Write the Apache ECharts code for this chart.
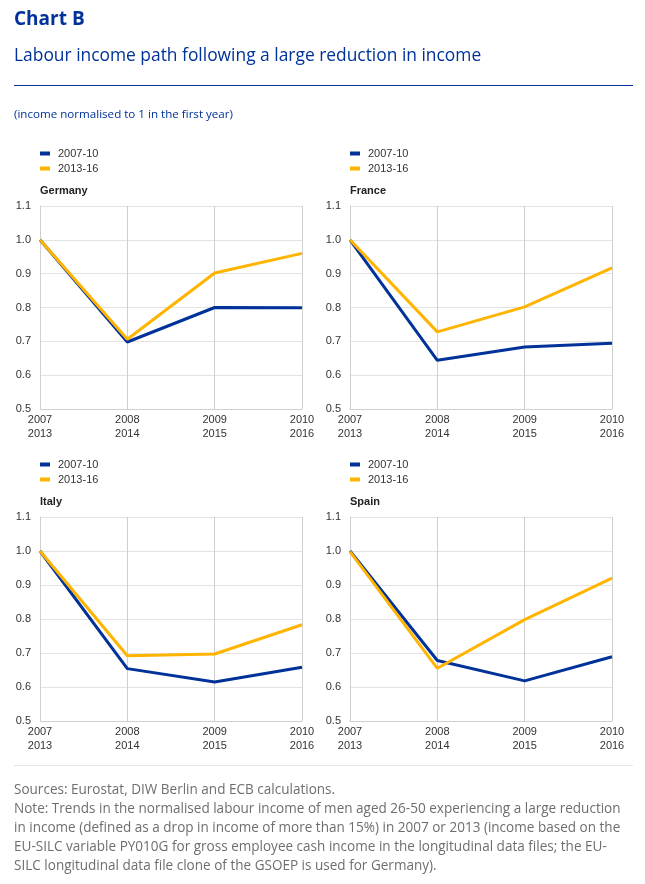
<!DOCTYPE html>
<html>
<head>
<meta charset="utf-8">
<script src="https://cdn.jsdelivr.net/npm/echarts@6/dist/echarts.min.js"></script>
<style>
html,body{margin:0;padding:0;background:#fff;}
#c{width:645px;height:884px;}
</style>
</head>
<body>
<div id="c"></div>
<script>
const categories = ['2007\n2013', '2008\n2014', '2009\n2015', '2010\n2016'];
const seriesNames = ['2007-10', '2013-16'];
const countries = ['Germany', 'France', 'Italy', 'Spain'];
const germany0710 = [1.0, 0.698, 0.800, 0.799];
const germany1316 = [1.0, 0.706, 0.902, 0.960];
const france0710 = [1.0, 0.644, 0.683, 0.694];
const france1316 = [1.0, 0.728, 0.802, 0.917];
const italy0710 = [1.0, 0.654, 0.615, 0.658];
const italy1316 = [1.0, 0.692, 0.697, 0.783];
const spain0710 = [1.0, 0.678, 0.618, 0.689];
const spain1316 = [0.998, 0.655, 0.798, 0.920];
const yTicks = [0.5, 0.6, 0.7, 0.8, 0.9, 1.0, 1.1];

const dataByCountry = [
  [germany0710, germany1316],
  [france0710, france1316],
  [italy0710, italy1316],
  [spain0710, spain1316]
];

const BLUE = '#003299';
const YELLOW = '#ffb400';
const FONT = '"Liberation Sans", Arial, sans-serif';
const OPEN = '"Open Sans", sans-serif';

const panels = [
  {left: 40, top: 206, height: 203, legendTop: 148, titleY: 191},
  {left: 350, top: 206, height: 203, legendTop: 148, titleY: 191},
  {left: 40, top: 517, height: 204, legendTop: 459, titleY: 502},
  {left: 350, top: 517, height: 204, legendTop: 459, titleY: 502}
];

const grid = [], xAxis = [], yAxis = [], series = [], legend = [];
panels.forEach((p, i) => {
  grid.push({left: p.left, top: p.top, width: 262, height: p.height, containLabel: false});
  xAxis.push({
    type: 'category', gridIndex: i, data: categories, boundaryGap: false,
    axisLine: {show: true, lineStyle: {color: '#d0d0d0', width: 1}},
    axisTick: {show: false},
    splitLine: {show: true, lineStyle: {color: '#cfcfcf', width: 1}},
    axisLabel: {fontFamily: FONT, fontSize: 11, color: '#333', lineHeight: 14, margin: 4, interval: 0, showMinLabel: true, showMaxLabel: true}
  });
  yAxis.push({
    type: 'value', gridIndex: i, min: 0.5, max: 1.1, interval: 0.1,
    axisLine: {show: true, lineStyle: {color: '#d0d0d0', width: 1}},
    axisTick: {show: false},
    splitLine: {show: true, lineStyle: {color: '#e3e3e3', width: 1}},
    axisLabel: {fontFamily: FONT, fontSize: 11, color: '#333', margin: 9, formatter: v => v.toFixed(1)}
  });
  const d = dataByCountry[i];
  series.push({
    name: seriesNames[0], type: 'line', xAxisIndex: i, yAxisIndex: i, data: d[0],
    symbol: 'none', lineStyle: {color: BLUE, width: 3}, itemStyle: {color: BLUE}, z: 2
  });
  series.push({
    name: seriesNames[1], type: 'line', xAxisIndex: i, yAxisIndex: i, data: d[1],
    symbol: 'none', lineStyle: {color: YELLOW, width: 3}, itemStyle: {color: YELLOW}, z: 3
  });
  legend.push({
    left: p.left, top: p.legendTop, orient: 'vertical', itemGap: 4, padding: 0,
    itemWidth: 10, itemHeight: 4, icon: 'rect', selectedMode: false,
    data: seriesNames,
    textStyle: {fontFamily: FONT, fontSize: 11, color: '#333', padding: [0,0,0,3]}
  });
});

const graphic = [
  {type: 'text', left: 14, top: 10, style: {text: 'Chart B', font: 'bold 19px ' + OPEN, fill: BLUE}},
  {type: 'text', left: 14, top: 48, style: {text: 'Labour income path following a large reduction in income', font: '17.4px ' + OPEN, fill: BLUE}},
  {type: 'rect', shape: {x: 14, y: 85, width: 619, height: 1}, style: {fill: BLUE}},
  {type: 'text', left: 14, top: 109, style: {text: '(income normalised to 1 in the first year)', font: '11.6px ' + OPEN, fill: BLUE}},
  {type: 'rect', shape: {x: 14, y: 765, width: 619, height: 1}, style: {fill: '#e6e6e6'}},
  {type: 'text', x: 14, y: 781, scaleX: 0.967, style: {
    text: 'Sources: Eurostat, DIW Berlin and ECB calculations.\nNote: Trends in the normalised labour income of men aged 26-50 experiencing a large reduction\nin income (defined as a drop in income of more than 15%) in 2007 or 2013 (income based on the\nEU-SILC variable PY010G for gross employee cash income in the longitudinal data files; the EU-\nSILC longitudinal data file clone of the GSOEP is used for Germany).',
    font: '14px ' + OPEN, fill: '#6e6e6e', lineHeight: 19}}
];
panels.forEach((p, i) => {
  graphic.push({type: 'text', x: p.left, y: p.titleY - 6, style: {text: countries[i], font: 'bold 11px ' + FONT, fill: '#222'}});
});

const chart = echarts.init(document.getElementById('c'), null, {renderer: 'canvas'});
chart.setOption({
  animation: false,
  backgroundColor: '#fff',
  grid, xAxis, yAxis, series, legend, graphic
});
</script>
</body>
</html>
